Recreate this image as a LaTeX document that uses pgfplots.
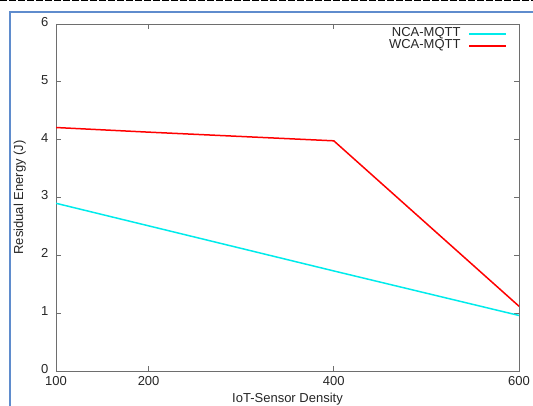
\documentclass[border=0pt]{standalone}
\usepackage{pgfplots}
\pgfplotsset{compat=1.18}
\usepackage{fontspec}
\setmainfont{Liberation Sans}
\definecolor{framblue}{RGB}{95,140,205}
\definecolor{bord}{RGB}{110,110,110}
\definecolor{lncyan}{RGB}{0,235,235}
\begin{document}
\begin{tikzpicture}[x=1pt,y=1pt]
\useasboundingbox (0,0) rectangle (533,406);
\draw[dash pattern=on 7pt off 2pt, line width=1.2pt] (0,405.6) -- (533,405.6);
\draw[color=framblue, line width=1.6pt] (10,0) -- (10,394) -- (533,394);
\begin{axis}[
  at={(56pt,35pt)}, anchor=south west,
  width=463pt, height=347pt, scale only axis,
  xmin=100, xmax=600, ymin=0, ymax=6,
  xtick={100,200,400,600}, ytick={0,1,2,3,4,5,6},
  tick align=inside, major tick length=5pt,
  axis line style={bord, line width=0.9pt},
  every tick/.style={bord, line width=0.9pt},
  tick label style={font=\fontsize{13}{15}\selectfont, text=black!85},
  /pgf/number format/assume math mode=true,
  xticklabel style={yshift=-2pt},
  yticklabel style={xshift=-4pt, yshift=2pt},
  xlabel={IoT-Sensor Density},
  ylabel={Residual Energy (J)},
  label style={font=\fontsize{13}{15}\selectfont, text=black!85},
  xlabel style={at={(axis description cs:0.5,-0.081)}, anchor=center},
  ylabel style={at={(axis description cs:-0.078,0.5)}, anchor=center},
  legend plot pos=right,
  legend cell align=right,
  legend style={draw=none, fill=none, inner sep=0pt, outer sep=0pt,
    at={(axis description cs:1,1)}, anchor=north east, xshift=-12pt, yshift=-4pt,
    font=\fontsize{13}{15}\selectfont, text=black!85, column sep=8pt,
    nodes={inner sep=0pt, text height=9pt, text depth=3pt}},
  legend image code/.code={\draw[#1] (0pt,0pt) -- (37pt,0pt);},
]
\addplot[lncyan, line width=1.5pt] coordinates {(100,2.90) (200,2.51) (400,1.73) (600,0.96)};
\addlegendentry{NCA-MQTT}
\addplot[red, line width=1.5pt] coordinates {(100,4.21) (200,4.13) (400,3.98) (600,1.12)};
\addlegendentry{WCA-MQTT}
\end{axis}
\end{tikzpicture}
\end{document}
